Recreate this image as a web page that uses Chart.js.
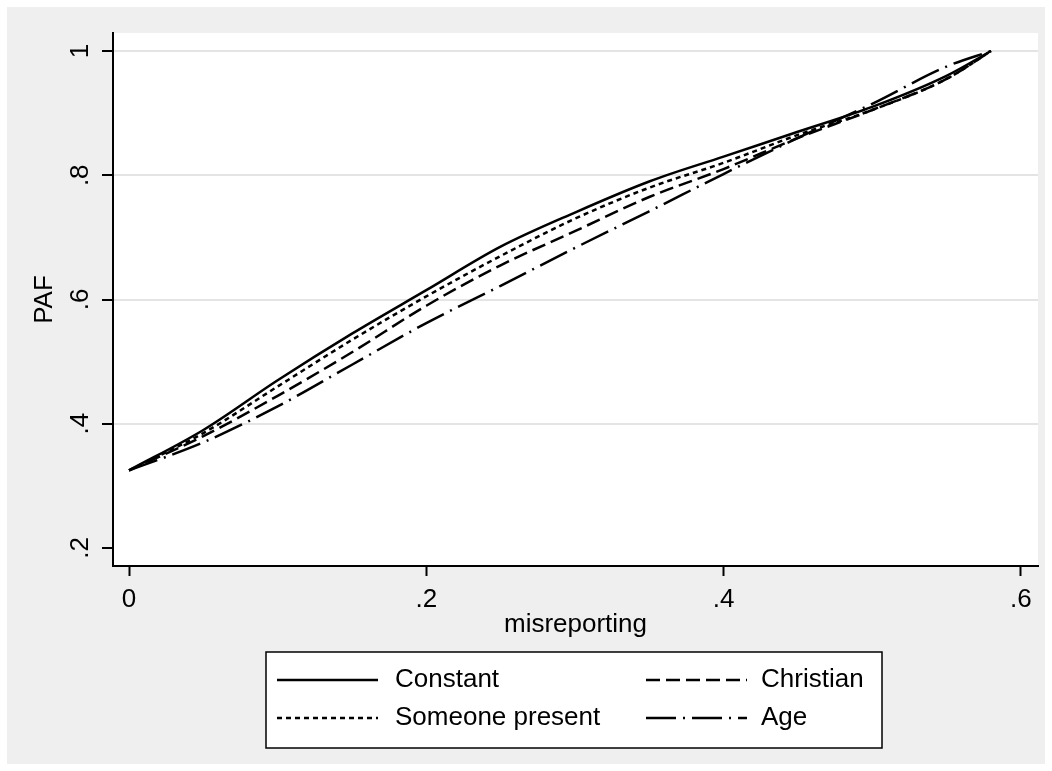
<!DOCTYPE html>
<html lang="en">
<head>
    <meta charset="UTF-8">
    <title>PAF vs misreporting</title>
    <script src="https://cdn.jsdelivr.net/npm/chart.js@4.4.1/dist/chart.umd.min.js"></script>
    <style>
        body { margin: 0; background: #ffffff; }
        #wrap { width: 1052px; height: 771px; }
    </style>
</head>
<body>
    <div id="wrap"><canvas id="pafChart" width="1052" height="771"></canvas></div>

    <script>
        // data
        const misreporting = [0, 0.05, 0.1, 0.15, 0.2, 0.25, 0.3, 0.35, 0.4, 0.45, 0.5, 0.55, 0.58];
        const constant     = [0.325, 0.39, 0.47, 0.545, 0.615, 0.685, 0.74, 0.79, 0.83, 0.87, 0.91, 0.96, 1.0];
        const someone      = [0.325, 0.385, 0.46, 0.535, 0.605, 0.67, 0.73, 0.78, 0.82, 0.865, 0.905, 0.955, 1.0];
        const christian    = [0.325, 0.38, 0.445, 0.515, 0.59, 0.655, 0.71, 0.765, 0.81, 0.86, 0.905, 0.955, 1.0];
        const age          = [0.325, 0.37, 0.428, 0.495, 0.562, 0.622, 0.683, 0.742, 0.802, 0.86, 0.915, 0.975, 1.0];

        const xTicks = [0, 0.2, 0.4, 0.6];
        const xTickLabels = ['0', '.2', '.4', '.6'];
        const yTicks = [0.2, 0.4, 0.6, 0.8, 1];
        const yTickLabels = ['.2', '.4', '.6', '.8', '1'];

        const FONT = "'Liberation Sans', Arial, sans-serif";
        const FSIZE = 26;

        function pts(ys) {
            return misreporting.map((x, i) => ({ x: x, y: ys[i] }));
        }

        function series(label, ys, dash) {
            return {
                label: label,
                data: pts(ys),
                borderColor: '#000000',
                borderWidth: 2.5,
                borderDash: dash,
                pointRadius: 0,
                fill: false,
                cubicInterpolationMode: 'monotone'
            };
        }

        // legend order: row by row, two columns
        const datasets = [
            series('Constant', constant, []),
            series('Christian', christian, [14, 6]),
            series('Someone present', someone, [5, 4]),
            series('Age', age, [30, 7, 2, 7])
        ];

        // grey frame + white plot region
        const backdrop = {
            id: 'backdrop',
            beforeDraw(chart) {
                const ctx = chart.ctx;
                const a = chart.chartArea;
                ctx.save();
                ctx.fillStyle = '#ffffff';
                ctx.fillRect(0, 0, chart.width, chart.height);
                ctx.fillStyle = '#efefef';
                ctx.fillRect(7, 7, chart.width - 14, chart.height - 14);
                ctx.fillStyle = '#ffffff';
                ctx.fillRect(a.left, a.top, a.right - a.left, a.bottom - a.top);
                ctx.restore();
            }
        };

        // rotated y tick labels (Stata style)
        const yLabels = {
            id: 'yLabels',
            afterDraw(chart) {
                const ctx = chart.ctx;
                const ys = chart.scales.y;
                ctx.save();
                ctx.fillStyle = '#000000';
                ctx.font = FSIZE + 'px ' + FONT;
                ctx.textAlign = 'center';
                ctx.textBaseline = 'middle';
                yTicks.forEach((v, i) => {
                    ctx.save();
                    ctx.translate(81, ys.getPixelForValue(v));
                    ctx.rotate(-Math.PI / 2);
                    ctx.fillText(yTickLabels[i], 0, 0);
                    ctx.restore();
                });
                ctx.restore();
            }
        };

        // boxed two-column legend under the axis
        const boxLegend = {
            id: 'boxLegend',
            afterDraw(chart) {
                const ctx = chart.ctx;
                const box = { x: 266, y: 652, w: 616, h: 96 };
                const cols = [{ line: 277, text: 395 }, { line: 646, text: 761 }];
                const rows = [680, 718];
                const lineLen = 101;
                ctx.save();
                ctx.fillStyle = '#ffffff';
                ctx.fillRect(box.x, box.y, box.w, box.h);
                ctx.strokeStyle = '#000000';
                ctx.lineWidth = 1.5;
                ctx.strokeRect(box.x, box.y, box.w, box.h);
                ctx.font = FSIZE + 'px ' + FONT;
                ctx.textBaseline = 'middle';
                ctx.fillStyle = '#000000';
                chart.data.datasets.forEach((ds, i) => {
                    const c = cols[i % 2];
                    const y = rows[Math.floor(i / 2)];
                    ctx.beginPath();
                    ctx.setLineDash(ds.borderDash);
                    ctx.lineWidth = ds.borderWidth;
                    ctx.moveTo(c.line, y);
                    ctx.lineTo(c.line + lineLen, y);
                    ctx.stroke();
                    ctx.setLineDash([]);
                    ctx.fillText(ds.label, c.text, y);
                });
                ctx.restore();
            }
        };

        const ctx = document.getElementById('pafChart').getContext('2d');
        const pafChart = new Chart(ctx, {
            type: 'line',
            data: { datasets: datasets },
            options: {
                responsive: false,
                animation: false,
                layout: { padding: { left: 0, top: 33, right: 14, bottom: 0 } },
                plugins: {
                    legend: { display: false },
                    tooltip: { enabled: false }
                },
                scales: {
                    x: {
                        type: 'linear',
                        min: -0.0108,
                        max: 0.6116,
                        afterBuildTicks: (s) => { s.ticks = xTicks.map(v => ({ value: v })); },
                        afterFit: (s) => { s.height = 205; },
                        ticks: {
                            color: '#000000',
                            padding: 8,
                            maxRotation: 0,
                            font: { family: FONT, size: FSIZE },
                            callback: (v) => xTickLabels[xTicks.indexOf(v)]
                        },
                        grid: {
                            drawOnChartArea: false,
                            drawTicks: true,
                            tickLength: 10,
                            tickColor: '#000000',
                            tickWidth: 2
                        },
                        border: { display: true, color: '#000000', width: 2 },
                        title: {
                            display: true,
                            text: 'misreporting',
                            color: '#000000',
                            font: { family: FONT, size: FSIZE },
                            padding: { top: 0, bottom: 131 }
                        }
                    },
                    y: {
                        type: 'linear',
                        min: 0.171,
                        max: 1.029,
                        afterBuildTicks: (s) => { s.ticks = yTicks.map(v => ({ value: v })); },
                        afterFit: (s) => { s.width = 113; },
                        ticks: { display: false },
                        grid: {
                            color: (c) => (c.tick && c.tick.value === 0.2) ? 'rgba(0,0,0,0)' : '#e4e4e4',
                            lineWidth: 2,
                            drawTicks: true,
                            tickLength: 11,
                            tickColor: '#000000',
                            tickWidth: 2
                        },
                        border: { display: true, color: '#000000', width: 2 },
                        title: {
                            display: true,
                            text: 'PAF',
                            color: '#000000',
                            font: { family: FONT, size: FSIZE },
                            padding: { top: 29, bottom: 0 }
                        }
                    }
                }
            },
            plugins: [backdrop, yLabels, boxLegend]
        });
    </script>
</body>
</html>
